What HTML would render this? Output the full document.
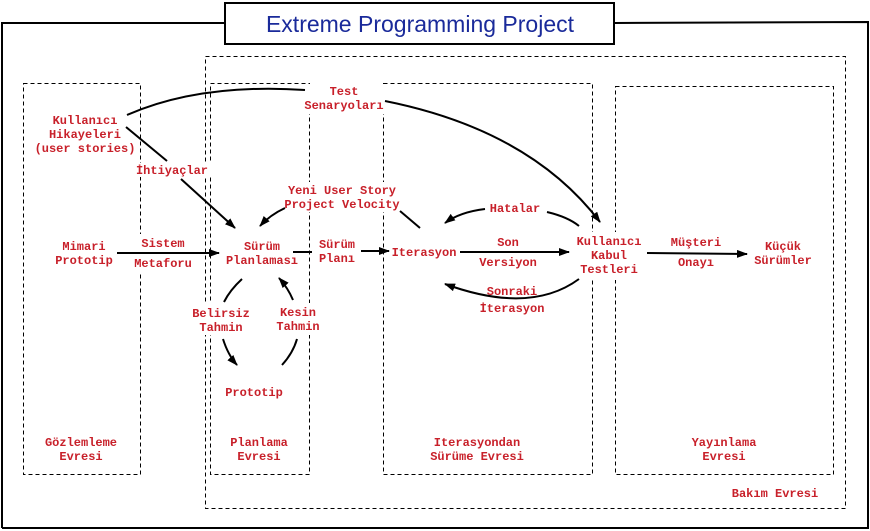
<!DOCTYPE html>
<html><head><meta charset="utf-8"><style>
html,body{margin:0;padding:0;background:#fff;width:870px;height:531px;overflow:hidden}
svg{display:block}
.t{font-family:"Liberation Mono",monospace;font-weight:bold;font-size:12px;fill:#c8202a;text-anchor:middle}
.d{fill:none;stroke:#000;stroke-width:1;stroke-dasharray:4,3;shape-rendering:crispEdges}
.l{fill:none;stroke:#000;stroke-width:2}
</style></head><body>
<svg width="870" height="531" viewBox="0 0 870 531">
<defs><marker id="a" markerWidth="11" markerHeight="8" refX="10" refY="4" orient="auto" markerUnits="userSpaceOnUse"><path d="M0,0 L11,4 L0,8 z" fill="#000"/></marker></defs>
<path d="M2,528 L2,23 L225,23 M614,23 L868,22 L868,528 L2,528" fill="none" stroke="#000" stroke-width="2"/>
<rect x="225" y="3" width="389" height="41" fill="#fff" stroke="#000" stroke-width="2"/>
<text x="420" y="32" style="font-family:'Liberation Sans',sans-serif;font-size:23px;fill:#1a2a9a" text-anchor="middle">Extreme Programming Project</text>
<rect class="d" x="205.5" y="56.5" width="640" height="452"/>
<rect class="d" x="23.5" y="83.5" width="117" height="391"/>
<rect class="d" x="210.5" y="83.5" width="99" height="391"/>
<rect class="d" x="383.5" y="83.5" width="209" height="391"/>
<rect class="d" x="615.5" y="86.5" width="218" height="388"/>
<rect x="300" y="84" width="88" height="30" fill="#fff"/>
<rect x="132" y="163" width="80" height="14" fill="#fff"/>
<rect x="280" y="182" width="124" height="30" fill="#fff"/>
<rect x="130" y="234" width="66" height="38" fill="#fff"/>
<rect x="312" y="236" width="50" height="32" fill="#fff"/>
<rect x="188" y="303" width="66" height="32" fill="#fff"/>
<rect x="272" y="303" width="52" height="32" fill="#fff"/>
<rect x="570" y="232" width="76" height="48" fill="#fff"/>
<path class="l" d="M127,115 Q200,83 305,90"/>
<path class="l" d="M385,101 Q530,130 600,222" marker-end="url(#a)"/>
<path class="l" d="M126,127 L167,161"/>
<path class="l" d="M181,179 L235,228" marker-end="url(#a)"/>
<path class="l" d="M285,208 Q270,215 260,226" marker-end="url(#a)"/>
<path class="l" d="M400,211 L420,228"/>
<path class="l" d="M117,253 L219,253" marker-end="url(#a)"/>
<path class="l" d="M293,252 L312,252"/>
<path class="l" d="M361,251 L389,251" marker-end="url(#a)"/>
<path class="l" d="M485,209 Q460,212 445,223" marker-end="url(#a)"/>
<path class="l" d="M547,212 Q568,217 579,226"/>
<path class="l" d="M460,252 L569,252" marker-end="url(#a)"/>
<path class="l" d="M579,279 Q530,315 445,284" marker-end="url(#a)"/>
<path class="l" d="M647,253 L747,254" marker-end="url(#a)"/>
<path class="l" d="M242,279 Q230,290 224,302"/>
<path class="l" d="M223,339 Q228,355 237,365" marker-end="url(#a)"/>
<path class="l" d="M297,339 Q293,353 282,365"/>
<path class="l" d="M293,300 Q288,288 279,278" marker-end="url(#a)"/>
<text class="t" x="85" y="124">Kullanıcı</text>
<text class="t" x="85" y="138">Hikayeleri</text>
<text class="t" x="85" y="152">(user stories)</text>
<text class="t" x="344" y="95">Test</text>
<text class="t" x="344" y="109">Senaryoları</text>
<text class="t" x="172" y="174">İhtiyaçlar</text>
<text class="t" x="342" y="194">Yeni User Story</text>
<text class="t" x="342" y="208">Project Velocity</text>
<text class="t" x="84" y="250">Mimari</text>
<text class="t" x="84" y="264">Prototip</text>
<text class="t" x="163" y="247">Sistem</text>
<text class="t" x="163" y="267">Metaforu</text>
<text class="t" x="262" y="250">Sürüm</text>
<text class="t" x="262" y="264">Planlaması</text>
<text class="t" x="337" y="248">Sürüm</text>
<text class="t" x="337" y="262">Planı</text>
<text class="t" x="424" y="256">Iterasyon</text>
<text class="t" x="515" y="212">Hatalar</text>
<text class="t" x="508" y="246">Son</text>
<text class="t" x="508" y="266">Versiyon</text>
<text class="t" x="512" y="295">Sonraki</text>
<text class="t" x="512" y="312">İterasyon</text>
<text class="t" x="609" y="245">Kullanıcı</text>
<text class="t" x="609" y="259">Kabul</text>
<text class="t" x="609" y="273">Testleri</text>
<text class="t" x="696" y="246">Müşteri</text>
<text class="t" x="696" y="266">Onayı</text>
<text class="t" x="783" y="250">Küçük</text>
<text class="t" x="783" y="264">Sürümler</text>
<text class="t" x="221" y="317">Belirsiz</text>
<text class="t" x="221" y="331">Tahmin</text>
<text class="t" x="298" y="316">Kesin</text>
<text class="t" x="298" y="330">Tahmin</text>
<text class="t" x="254" y="396">Prototip</text>
<text class="t" x="81" y="446">Gözlemleme</text>
<text class="t" x="81" y="460">Evresi</text>
<text class="t" x="259" y="446">Planlama</text>
<text class="t" x="259" y="460">Evresi</text>
<text class="t" x="477" y="446">Iterasyondan</text>
<text class="t" x="477" y="460">Sürüme Evresi</text>
<text class="t" x="724" y="446">Yayınlama</text>
<text class="t" x="724" y="460">Evresi</text>
<text class="t" x="775" y="497">Bakım Evresi</text>
</svg>
</body></html>
